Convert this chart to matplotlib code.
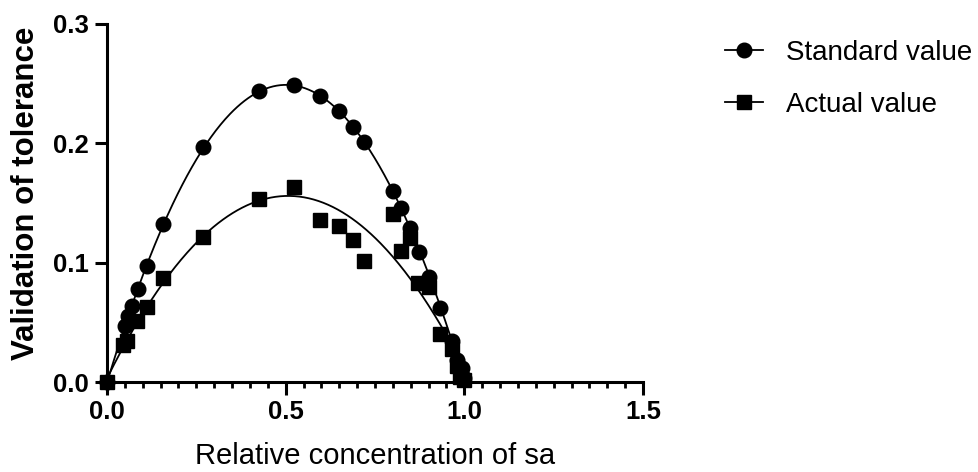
import numpy as np
import matplotlib
matplotlib.use("Agg")
import matplotlib.pyplot as plt
from matplotlib.lines import Line2D

plt.rcParams['font.family'] = ['Liberation Sans', 'DejaVu Sans']

# Standard value (circles)
std_x = [0.0, 0.050, 0.060, 0.069, 0.088, 0.111, 0.158, 0.270, 0.425, 0.524,
         0.596, 0.649, 0.689, 0.720, 0.800, 0.823, 0.848, 0.874, 0.902, 0.932,
         0.965, 0.980, 0.993, 1.0]
std_y = [0.0, 0.047, 0.055, 0.064, 0.078, 0.0975, 0.132, 0.197, 0.2437, 0.249,
         0.240, 0.2275, 0.214, 0.201, 0.160, 0.1456, 0.129, 0.109, 0.0877, 0.0623,
         0.034, 0.0184, 0.0115, 0.003]

# Actual value (squares)
act_x = [0.0, 0.046, 0.055, 0.083, 0.111, 0.156, 0.270, 0.425, 0.524, 0.596,
         0.649, 0.689, 0.720, 0.800, 0.822, 0.848, 0.871, 0.902, 0.932, 0.965,
         0.980, 0.988, 1.0]
act_y = [0.0, 0.031, 0.034, 0.0514, 0.0626, 0.0875, 0.1218, 0.153, 0.163, 0.136,
         0.131, 0.119, 0.1014, 0.1408, 0.1098, 0.1204, 0.0827, 0.080, 0.0402, 0.028,
         0.013, 0.0045, 0.002]

labels = ["Standard value", "Actual value"]
x_ticks = [0.0, 0.5, 1.0, 1.5]
y_ticks = [0.0, 0.1, 0.2, 0.3]


def fit_curve(x, y):
    p = np.polyfit(x, y, 2)
    xs = np.linspace(0, 1.0, 300)
    return xs, np.polyval(p, xs)


fig = plt.figure(figsize=(9.79, 4.72), dpi=100)
ax = fig.add_axes([107 / 979, 1 - 382 / 472, 536 / 979, 358 / 472])

for xs_, ys_, m, ms in [(std_x, std_y, 'o', 10.5), (act_x, act_y, 's', 9.5)]:
    cx, cy = fit_curve(xs_, ys_)
    ax.plot(cx, cy, color='black', lw=1.3, zorder=2, clip_on=False)
    ax.plot(xs_, ys_, linestyle='none', marker=m, ms=ms, color='black',
            zorder=3, clip_on=False)

ax.set_xlim(0, 1.5)
ax.set_ylim(0, 0.3)
ax.set_xticks(x_ticks)
ax.set_xticklabels([f"{v:.1f}" for v in x_ticks])
ax.set_xticks(np.arange(0, 1.5001, 0.05), minor=True)
ax.set_yticks(y_ticks)
ax.set_yticklabels([f"{v:.1f}" for v in y_ticks])

for s in ['top', 'right']:
    ax.spines[s].set_visible(False)
for s in ['left', 'bottom']:
    ax.spines[s].set_linewidth(2.2)
ax.tick_params(axis='both', which='major', length=9, width=2.2,
               labelsize=18.5, pad=4)
ax.tick_params(axis='x', which='minor', length=4.5, width=2.0)
for lab in ax.get_xticklabels() + ax.get_yticklabels():
    lab.set_fontweight('bold')

ax.set_xlabel("Relative concentration of sa", fontsize=21, labelpad=13)
ax.set_ylabel("Validation of tolerance", fontsize=22.5, fontweight='bold',
              labelpad=9)
ax.yaxis.label.set_y(0.528)

handles = [Line2D([], [], color='black', lw=1.3, marker='o', ms=10.5),
           Line2D([], [], color='black', lw=1.3, marker='s', ms=9.5)]
fig.legend(handles, labels, loc='upper left', bbox_to_anchor=(700 / 979, 1 - 15 / 472),
           frameon=False, fontsize=20, handlelength=1.36, labelspacing=0.92,
           handletextpad=0.84)

fig.savefig("out.png", dpi=100)
